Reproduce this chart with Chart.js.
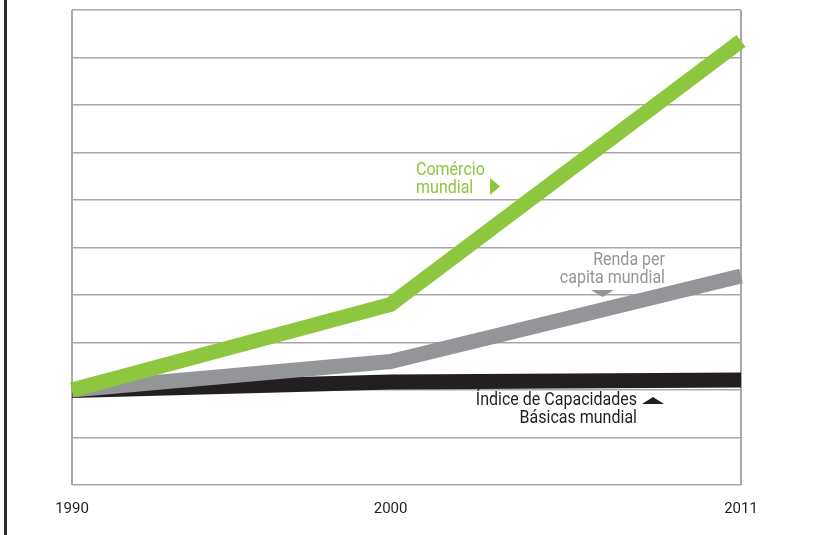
<!DOCTYPE html>
<html>
<head>
<meta charset="utf-8">
<script src="https://cdn.jsdelivr.net/npm/chart.js@4"></script>
<style>
  html, body { margin: 0; padding: 0; background: #fff; }
  #wrap { width: 819px; height: 535px; }
</style>
</head>
<body>
<div id="wrap"><canvas id="chart"></canvas></div>
<script>
// years on the x axis
let Years = [1990, 2000, 2011];
let TickYears = [1990, 2000, 2011];

// index values (1990 = same start)
let Comercio = [2.0, 3.8, 9.35];
let Renda = [2.0, 2.6, 4.4];
let Capacidades = [1.99, 2.17, 2.21];

const FONT = '"Liberation Sans Narrow", "Roboto", sans-serif';
const GREEN = '#8dc63f';
const GREY = '#939598';
const DARK = '#231f20';
const GRID = '#a8a8a8';

const toPoints = (vals) => vals.map((v, i) => ({ x: Years[i], y: v }));

// narrow text: the original face is a condensed one
function narrowText(c, str, x, y) {
    c.save();
    c.translate(x, y);
    c.scale(0.89, 1);
    c.fillText(str, 0, 0);
    c.restore();
}

// labels, arrows and the black bar at the left edge
const notes = {
    id: 'notes',
    afterDraw(chart) {
        const c = chart.ctx;
        c.save();

        c.fillStyle = '#2b2b2b';
        c.fillRect(4, 0, 3, 535);

        c.font = '18px ' + FONT;
        c.textBaseline = 'alphabetic';

        c.fillStyle = GREEN;
        c.textAlign = 'left';
        narrowText(c, 'Comércio', 416, 175);
        narrowText(c, 'mundial', 416, 193);
        c.beginPath();
        c.moveTo(490, 178); c.lineTo(490, 195); c.lineTo(500, 186.5);
        c.closePath(); c.fill();

        c.fillStyle = GREY;
        c.textAlign = 'right';
        narrowText(c, 'Renda per', 665, 265);
        narrowText(c, 'capita mundial', 665, 283);
        c.beginPath();
        c.moveTo(591, 290); c.lineTo(614, 290); c.lineTo(602.5, 297);
        c.closePath(); c.fill();

        c.fillStyle = DARK;
        narrowText(c, 'Índice de Capacidades', 637, 405);
        narrowText(c, 'Básicas mundial', 637, 423);
        c.beginPath();
        c.moveTo(642, 404); c.lineTo(664, 404); c.lineTo(653, 397);
        c.closePath(); c.fill();

        c.restore();
    }
};

const data = {
    datasets: [{
        label: 'Comércio mundial',
        data: toPoints(Comercio),
        borderColor: GREEN,
        borderWidth: 15,
    }, {
        label: 'Renda per capita mundial',
        data: toPoints(Renda),
        borderColor: GREY,
        borderWidth: 15,
    }, {
        label: 'Índice de Capacidades Básicas mundial',
        data: toPoints(Capacidades),
        borderColor: DARK,
        borderWidth: 15,
    }]
};

const config = {
    type: 'line',
    data: data,
    options: {
        responsive: true,
        maintainAspectRatio: false,
        animation: false,
        layout: { padding: { top: 10, right: 78, left: 0, bottom: 0 } },
        elements: {
            point: { radius: 0 },
            line: { tension: 0, borderCapStyle: 'butt', borderJoinStyle: 'miter', fill: false }
        },
        datasets: { line: { clip: false } },
        plugins: {
            legend: { display: false },
            tooltip: { enabled: false }
        },
        scales: {
            x: {
                type: 'linear',
                min: 1990,
                max: 2011,
                afterBuildTicks: (scale) => { scale.ticks = TickYears.map(v => ({ value: v })); },
                afterFit: (scale) => { scale.height = 50; },
                grid: {
                    color: (ctx) => (ctx.tick && ctx.tick.value === 2000) ? 'rgba(0,0,0,0)' : GRID,
                    lineWidth: 2,
                    drawTicks: false
                },
                border: { display: false },
                ticks: {
                    padding: 15,
                    color: DARK,
                    font: { family: FONT, size: 15 },
                    callback: (v) => String(v)
                }
            },
            y: {
                min: 0,
                max: 10,
                afterFit: (scale) => { scale.width = 72; },
                ticks: { display: false, stepSize: 1 },
                grid: { color: GRID, lineWidth: 1.5, drawTicks: false },
                border: { display: false }
            }
        }
    },
    plugins: [notes]
};

let MainChart = new Chart(document.getElementById('chart'), config);
</script>
</body>
</html>
